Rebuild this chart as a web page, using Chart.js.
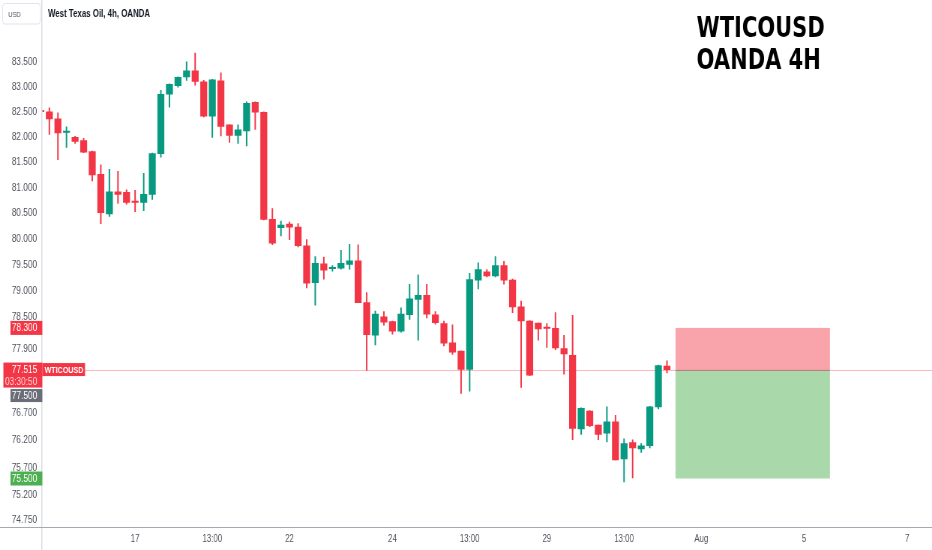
<!DOCTYPE html>
<html>
<head>
<meta charset="utf-8">
<script src="https://cdn.jsdelivr.net/npm/chart.js@4.4.1/dist/chart.umd.min.js"></script>
<style>
  html, body { margin: 0; padding: 0; background: #fff; overflow: hidden; }
</style>
</head>
<body>
<!-- drawn 1243 wide, shown 932 wide: the reference is squeezed horizontally -->
<canvas id="chart" width="1243" height="550" style="width:932px;height:550px;display:block"></canvas>
<script>
// candles (4h, WTICOUSD), first one is cut off by the price axis
const opens  = [82.52, 82.50, 82.36, 82.09, 81.99, 81.93, 81.71, 81.26, 80.49, 80.92, 80.91,
                80.72, 80.71, 80.87, 81.67, 82.85, 83.02, 83.20, 83.32, 83.10, 82.41,
                83.12, 82.24, 82.03, 82.12, 82.69, 82.49, 80.38, 80.22, 80.29, 80.23,
                79.87, 79.16, 79.52, 79.43, 79.44, 79.51, 79.58, 78.78, 78.16, 78.51,
                78.42, 78.24, 78.55, 78.84, 78.92, 78.55, 78.38, 78.02, 77.86, 77.52,
                79.21, 79.37, 79.29, 79.49, 79.21, 78.70, 78.43, 78.39, 78.30, 78.29,
                77.91, 77.78, 76.41, 76.74, 76.48, 76.33, 76.54, 75.86, 76.16, 76.04,
                76.10, 76.82, 77.58];
const highs  = [82.55, 82.58, 82.48, 82.20, 82.01, 81.97, 81.72, 81.45, 81.36, 81.32, 80.96,
                80.95, 81.28, 81.68, 82.93, 83.06, 83.20, 83.50, 83.68, 83.13, 83.15,
                83.28, 82.24, 82.24, 82.70, 82.70, 82.50, 80.59, 80.35, 80.33, 80.30,
                79.99, 79.66, 79.65, 79.49, 79.78, 79.90, 79.89, 78.97, 78.62, 78.61,
                78.43, 78.68, 79.13, 79.31, 79.13, 78.61, 78.43, 78.36, 77.86, 79.34,
                79.54, 79.41, 79.66, 79.57, 79.23, 78.81, 78.44, 78.39, 78.38, 78.59,
                78.16, 78.54, 76.80, 76.75, 76.48, 76.82, 76.66, 76.23, 76.21, 76.14,
                76.83, 77.60, 77.68];
const lows   = [82.47, 82.05, 81.55, 81.79, 81.87, 81.69, 81.13, 80.30, 80.44, 80.69, 80.68,
                80.53, 80.55, 80.77, 81.60, 82.59, 82.99, 83.13, 83.03, 82.40, 81.99,
                82.02, 81.89, 81.87, 81.82, 82.15, 80.37, 79.89, 80.06, 79.99, 79.85,
                79.06, 78.73, 79.23, 79.38, 79.42, 79.42, 78.78, 77.50, 77.98, 78.35,
                78.18, 78.22, 78.46, 78.07, 78.49, 78.37, 77.96, 77.80, 77.07, 77.11,
                79.04, 79.27, 79.27, 79.13, 78.59, 77.18, 77.40, 78.07, 77.93, 77.89,
                77.43, 76.21, 76.31, 76.45, 76.21, 76.17, 75.84, 75.44, 75.51, 75.98,
                76.06, 76.78, 77.45];
const closes = [82.50, 82.36, 82.08, 82.10, 81.91, 81.70, 81.25, 80.51, 80.92, 80.87, 80.71,
                80.71, 80.87, 81.67, 82.85, 83.05, 83.19, 83.32, 83.11, 82.41, 83.14,
                82.21, 82.03, 82.14, 82.67, 82.49, 80.38, 79.92, 80.27, 80.23, 79.87,
                79.15, 79.53, 79.40, 79.45, 79.53, 79.58, 78.78, 78.17, 78.56, 78.41,
                78.24, 78.56, 78.85, 78.92, 78.56, 78.40, 78.01, 77.84, 77.52, 79.22,
                79.41, 79.29, 79.49, 79.21, 78.70, 78.43, 77.41, 78.28, 78.29, 77.92,
                77.81, 76.42, 76.79, 76.47, 76.31, 76.54, 75.84, 76.14, 76.06, 76.10,
                76.82, 77.59, 77.515];
const firstIndex = -1;

// time axis
const xTickIdx    = [10, 19, 28, 40, 49, 58, 67, 76, 88, 100];
const xTickLabels = ['17', '13:00', '22', '24', '13:00', '29', '13:00', 'Aug', '5', '7'];
// price axis (log)
const yTicks = [83.5, 83, 82.5, 82, 81.5, 81, 80.5, 80, 79.5, 79, 78.5, 77.9, 76.7, 76.2, 75.7, 75.2, 74.75];

// last price + short position tool
const lastPrice = 77.515;
const countdown = '03:30:50';
const stopPrice = 78.3;
const entryPrice = 77.5;
const targetPrice = 75.5;
const positionFrom = 73;
const positionTo = 91;

const UP = '#089981';
const DOWN = '#F23645';
const FONT = '"Liberation Sans", Arial, sans-serif';

const idx = opens.map((_, i) => firstIndex + i);
const colors = opens.map((o, i) => closes[i] >= o ? UP : DOWN);

function tag(ctx, text, yc, bg, left, right, h) {
    ctx.fillStyle = bg;
    ctx.fillRect(left, yc - h / 2, right - left, h);
    ctx.fillStyle = '#fff';
    ctx.fillText(text, 49.5, yc + 0.5);
}

const overlay = {
    id: 'overlay',
    beforeDatasetsDraw(chart) {
        const {ctx, chartArea: a, scales: {x, y}} = chart;
        ctx.save();
        ctx.beginPath();
        ctx.rect(a.left, a.top, a.right - a.left, a.bottom - a.top);
        ctx.clip();

        // position tool
        const x0 = x.getPixelForValue(positionFrom);
        const x1 = x.getPixelForValue(positionTo);
        const yS = y.getPixelForValue(stopPrice);
        const yE = y.getPixelForValue(entryPrice);
        const yT = y.getPixelForValue(targetPrice);
        ctx.fillStyle = 'rgba(242,54,69,0.46)';
        ctx.fillRect(x0, yS, x1 - x0, yE - yS);
        ctx.fillStyle = 'rgba(76,175,80,0.48)';
        ctx.fillRect(x0, yE, x1 - x0, yT - yE);
        ctx.fillStyle = 'rgba(120,123,134,0.55)';
        ctx.fillRect(x0, yE - 0.5, x1 - x0, 1);

        // last price line
        const yL = Math.round(y.getPixelForValue(lastPrice)) + 0.5;
        ctx.strokeStyle = 'rgba(242,54,69,0.35)';
        ctx.lineWidth = 1;
        ctx.beginPath();
        ctx.moveTo(a.left, yL);
        ctx.lineTo(a.right, yL);
        ctx.stroke();
        ctx.restore();
    },
    afterDraw(chart) {
        const {ctx, chartArea: a, scales: {y}} = chart;
        ctx.save();
        // axis lines run to the canvas edges
        ctx.fillStyle = '#d6d8de';
        ctx.fillRect(a.left - 1.3, 0, 1.3, chart.height);
        ctx.fillStyle = '#a5a8b0';
        ctx.fillRect(0, Math.round(a.bottom), chart.width, 1);

        // price tags on the axis
        ctx.font = '11px ' + FONT;
        ctx.textAlign = 'right';
        ctx.textBaseline = 'middle';
        tag(ctx, stopPrice.toFixed(3), y.getPixelForValue(stopPrice), DOWN, 14, 56.4, 14);
        tag(ctx, targetPrice.toFixed(3), y.getPixelForValue(targetPrice), '#4caf50', 14, 56.4, 14);

        const yL = y.getPixelForValue(lastPrice);
        ctx.fillStyle = DOWN;
        ctx.fillRect(4.5, yL - 7, 51.9, 25);
        ctx.fillStyle = '#fff';
        ctx.fillText(lastPrice.toFixed(3), 49.5, yL + 0.5);
        ctx.fillStyle = '#ffd3d7';
        ctx.fillText(countdown, 49.5, yL + 12.5);
        tag(ctx, entryPrice.toFixed(3), yL + 26, '#6a6d78', 14, 56.4, 13);

        // symbol tag next to the axis
        ctx.fillStyle = DOWN;
        ctx.fillRect(a.left, yL - 6.5, 57, 13);
        ctx.fillStyle = '#fff';
        ctx.textAlign = 'left';
        ctx.font = 'bold 9.5px ' + FONT;
        ctx.fillText('WTICOUSD', a.left + 3, yL + 0.5);

        // header
        ctx.strokeStyle = '#e0e3eb';
        ctx.lineWidth = 1;
        ctx.fillStyle = '#fff';
        ctx.beginPath();
        ctx.roundRect(3.5, 3.5, 50, 20.5, 3);
        ctx.fill();
        ctx.stroke();
        ctx.fillStyle = '#50535e';
        ctx.textBaseline = 'alphabetic';
        ctx.font = '8px ' + FONT;
        ctx.fillText('USD', 11, 16.7);
        ctx.fillStyle = '#131722';
        ctx.font = 'bold 10.5px ' + FONT;
        ctx.fillText('West Texas Oil, 4h, OANDA', 64, 17);

        // big title
        ctx.fillStyle = '#000';
        ctx.font = 'bold 28px "DejaVu Sans", sans-serif';
        ctx.fillText('WTICOUSD', 929, 36.7);
        ctx.fillText('OANDA 4H', 929, 69);
        ctx.restore();
    }
};

new Chart(document.getElementById('chart'), {
    type: 'bar',
    data: {
        datasets: [
            {
                label: 'wick',
                data: idx.map((x, i) => ({x: x, y: [lows[i], highs[i]]})),
                backgroundColor: colors,
                barThickness: 1.3,
                grouped: false,
                order: 2
            },
            {
                label: 'body',
                data: idx.map((x, i) => ({x: x, y: [opens[i], closes[i]]})),
                backgroundColor: colors,
                barThickness: 8.6,
                minBarLength: 1.4,
                grouped: false,
                order: 1
            }
        ]
    },
    options: {
        responsive: false,
        devicePixelRatio: 1,
        animation: false,
        layout: {padding: 0},
        plugins: {legend: {display: false}, tooltip: {enabled: false}},
        scales: {
            x: {
                type: 'linear',
                offset: false,
                min: -0.82,
                max: 102.9,
                bounds: 'data',
                grid: {display: false, drawTicks: false, offset: false},
                border: {display: false},
                ticks: {
                    autoSkip: false,
                    maxRotation: 0,
                    padding: 6,
                    color: '#50535e',
                    font: {family: FONT, size: 10.5},
                    callback: v => xTickLabels[xTickIdx.indexOf(v)]
                },
                afterBuildTicks: s => { s.ticks = xTickIdx.map(v => ({value: v})); },
                afterFit: s => { s.height = 23; s.paddingLeft = 0; s.paddingRight = 0; }
            },
            y: {
                type: 'logarithmic',
                position: 'left',
                min: 74.62,
                max: 84.76,
                bounds: 'data',
                grid: {display: false, drawTicks: false},
                border: {display: false},
                ticks: {
                    autoSkip: false,
                    padding: 7,
                    color: '#50535e',
                    font: {family: FONT, size: 11},
                    callback: v => Number(v).toFixed(3)
                },
                afterBuildTicks: s => { s.ticks = yTicks.map(v => ({value: v})); },
                afterFit: s => { s.width = 56.4; s.paddingTop = 0; s.paddingBottom = 0; }
            }
        }
    },
    plugins: [overlay]
});
</script>
</body>
</html>
